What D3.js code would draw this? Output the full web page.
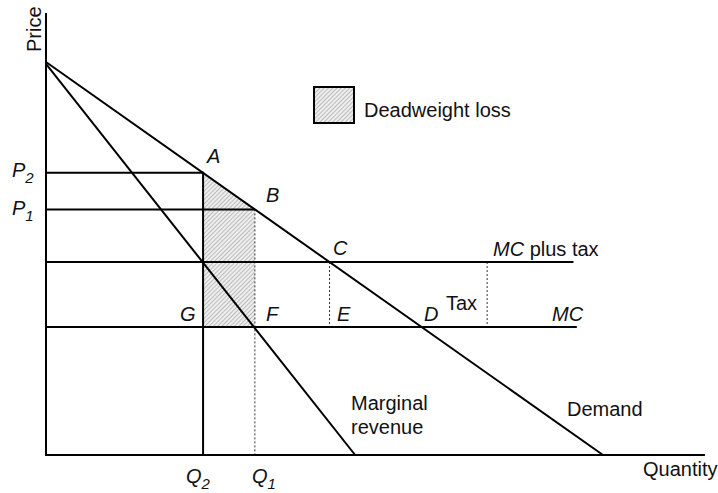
<!DOCTYPE html>
<html>
<head>
<meta charset="utf-8">
<script src="https://cdn.jsdelivr.net/npm/d3@7"></script>
<style>
  body { margin: 0; background: #fff; }
  text { font-family: "Liberation Sans", Arial, sans-serif; font-size: 20px; fill: #111; }
  .it { font-style: italic; }
</style>
</head>
<body>
<div id="chart"></div>
<script>
// curves, in price/quantity units
const demand = [[0, 10], [10, 0]]
const marginalRevenue = [[0, 9.95], [5.55, 0]]
const mc = 3.26
const mcTax = 4.91
const mcEnd = 9.5
// key points
const q2 = 2.82, p2 = 7.18
const q1 = 3.75, p1 = 6.25
const qC = 5.09, qD = 6.74, qTax = 7.92
const axisMax = {q: 11.83, p: 11.25}
const deadweight = [[q2, p2], [q1, p1], [q1, mc], [q2, mc]]

const width = 718, height = 493
const svg = d3.select("#chart").append("svg")
    .attr("width", width).attr("height", height)

const x = d3.scaleLinear().domain([0, 10]).range([46, 603])
const y = d3.scaleLinear().domain([0, 10]).range([455, 62])
const line = d3.line().x(d => x(d[0])).y(d => y(d[1]))

const defs = svg.append("defs")
const pat = defs.append("pattern")
    .attr("id", "hatch").attr("patternUnits", "userSpaceOnUse")
    .attr("width", 3).attr("height", 3)
    .attr("patternTransform", "rotate(45)")
pat.append("rect").attr("width", 3).attr("height", 3).attr("fill", "#eeeeee")
pat.append("line").attr("x1", 0).attr("y1", 0).attr("x2", 0).attr("y2", 3)
    .attr("stroke", "#9a9a9a").attr("stroke-width", 1.2)

const layer_area = svg.append("g")
const layer_dash = svg.append("g")
const layer_lines = svg.append("g")
const layer_text = svg.append("g")

layer_area.append("path")
    .attr("d", line(deadweight) + "Z")
    .attr("fill", "url(#hatch)")

// dashed guides
const dashed = [
    [[q1, p1], [q1, 0]],
    [[qC, mcTax], [qC, mc]],
    [[qTax, mcTax], [qTax, mc]]
]
layer_dash.selectAll("path").data(dashed).enter().append("path")
    .attr("d", line)
    .attr("fill", "none").attr("stroke", "#333")
    .attr("stroke-width", 1).attr("stroke-dasharray", "2,2")

const solid = [
    [[0, axisMax.p], [0, 0], [axisMax.q, 0]],
    demand,
    marginalRevenue,
    [[0, mcTax], [mcEnd - 0.03, mcTax]],
    [[0, mc], [mcEnd + 0.03, mc]],
    [[0, p2], [q2, p2], [q2, 0]],
    [[0, p1], [q1, p1]]
]
layer_lines.selectAll("path").data(solid).enter().append("path")
    .attr("d", line)
    .attr("fill", "none").attr("stroke", "#000")
    .attr("stroke-width", 2)

// legend
layer_lines.append("rect")
    .attr("x", 314).attr("y", 87).attr("width", 40).attr("height", 36)
    .attr("fill", "url(#hatch)").attr("stroke", "#000").attr("stroke-width", 2)
layer_text.append("text").attr("x", 364).attr("y", 117).text("Deadweight loss")

// axis titles
layer_text.append("text")
    .attr("transform", "translate(41,52) rotate(-90)")
    .text("Price")
layer_text.append("text").attr("x", 643).attr("y", 476).text("Quantity")

// curve labels
layer_text.append("text").attr("x", 567).attr("y", 416).text("Demand")
layer_text.append("text").attr("x", 351).attr("y", 410).text("Marginal")
layer_text.append("text").attr("x", 351).attr("y", 434).text("revenue")
const mcTaxLabel = layer_text.append("text").attr("x", 493).attr("y", 256)
mcTaxLabel.append("tspan").attr("class", "it").text("MC")
mcTaxLabel.append("tspan").text(" plus tax")
layer_text.append("text").attr("class", "it").attr("x", 552).attr("y", 321).text("MC")
layer_text.append("text").attr("x", 446).attr("y", 310).text("Tax")

// point labels
const points = [
    {t: "A", x: 207, y: 163}, {t: "B", x: 266, y: 202},
    {t: "C", x: 333, y: 255}, {t: "D", x: 424, y: 321},
    {t: "E", x: 337, y: 321}, {t: "F", x: 266, y: 321},
    {t: "G", x: 180, y: 321}
]
layer_text.selectAll("text.pt").data(points).enter().append("text")
    .attr("class", "pt it").attr("x", d => d.x).attr("y", d => d.y).text(d => d.t)

// subscripted labels
const subs = [
    {t: "P", s: "2", x: 12, y: 177}, {t: "P", s: "1", x: 12, y: 215},
    {t: "Q", s: "2", x: 186, y: 483}, {t: "Q", s: "1", x: 252, y: 483}
]
subs.forEach(d => {
    const tx = layer_text.append("text").attr("class", "it").attr("x", d.x).attr("y", d.y)
    tx.append("tspan").text(d.t)
    tx.append("tspan").attr("dy", 6).style("font-size", "15px").text(d.s)
})
</script>
</body>
</html>
